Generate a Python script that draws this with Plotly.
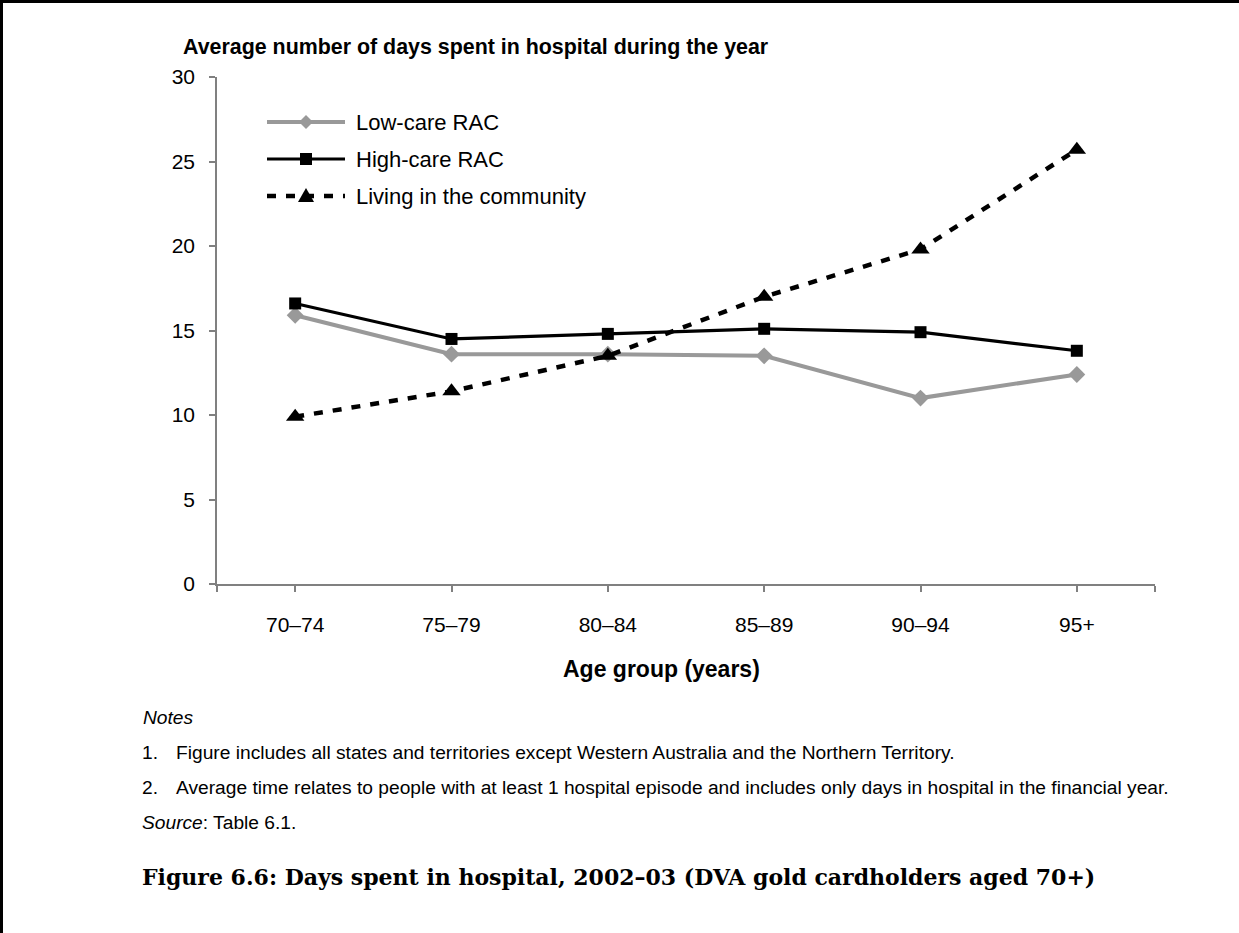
import plotly.graph_objects as go

# ---- data ----
age_groups = ["70–74", "75–79", "80–84", "85–89", "90–94", "95+"]
low_care = [15.9, 13.6, 13.6, 13.5, 11.0, 12.4]
high_care = [16.6, 14.5, 14.8, 15.1, 14.9, 13.8]
community = [9.9, 11.4, 13.5, 17.0, 19.8, 25.7]
y_ticks = [0, 5, 10, 15, 20, 25, 30]

series_names = ["Low-care RAC", "High-care RAC", "Living in the community"]

W, H = 1239, 933
L, R, T, B = 217, 1155, 77, 584  # plot area in px

def px(x):
    return (x - L) / (R - L)

def py(y):
    return (B - y) / (B - T)

xs = list(range(len(age_groups)))

GRAY = "#999999"
BLACK = "#000000"
AX = "#808080"
FONT = "Liberation Sans, Arial, sans-serif"
DASH = "9px,10px"

fig = go.Figure()
fig.add_trace(go.Scatter(x=xs, y=low_care, mode="lines+markers", name=series_names[0],
                         line=dict(color=GRAY, width=4),
                         marker=dict(symbol="diamond", size=13, color=GRAY),
                         showlegend=False))
fig.add_trace(go.Scatter(x=xs, y=high_care, mode="lines+markers", name=series_names[1],
                         line=dict(color=BLACK, width=3.2),
                         marker=dict(symbol="square", size=12, color=BLACK),
                         showlegend=False))
fig.add_trace(go.Scatter(x=xs, y=community, mode="lines+markers", name=series_names[2],
                         line=dict(color=BLACK, width=4.5, dash=DASH),
                         marker=dict(symbol="triangle-up", size=16, color=BLACK),
                         showlegend=False))

shapes = []
annotations = []

# custom legend (line sample + marker + text)
leg_rows = [122, 159, 196]
leg_styles = [
    dict(color=GRAY, width=4, dash="solid", marker="diamond"),
    dict(color=BLACK, width=3.2, dash="solid", marker="square"),
    dict(color=BLACK, width=4.5, dash=DASH, marker="triangle"),
]
marker_paths = {
    "diamond": "M0,-7 L7,0 L0,7 L-7,0 Z",
    "square": "M-6,-6 L6,-6 L6,6 L-6,6 Z",
    "triangle": "M0,8 L8,-6 L-8,-6 Z",
}
for name, yy, st in zip(series_names, leg_rows, leg_styles):
    shapes.append(dict(type="line", xref="paper", yref="paper",
                       x0=px(267), x1=px(345), y0=py(yy), y1=py(yy),
                       line=dict(color=st["color"], width=st["width"], dash=st["dash"])))
    shapes.append(dict(type="path", xref="paper", yref="paper",
                       xsizemode="pixel", ysizemode="pixel",
                       xanchor=px(306), yanchor=py(yy),
                       path=marker_paths[st["marker"]],
                       fillcolor=st["color"], line=dict(width=0)))
    annotations.append(dict(text=name, xref="paper", yref="paper", x=px(354), y=py(yy),
                            xanchor="left", yanchor="middle", showarrow=False,
                            font=dict(family=FONT, size=22, color=BLACK)))

# page border (left and top)
shapes.append(dict(type="line", xref="paper", yref="paper",
                   x0=px(1.5), x1=px(1.5), y0=py(0), y1=py(H), line=dict(color=BLACK, width=3)))
shapes.append(dict(type="line", xref="paper", yref="paper",
                   x0=px(0), x1=px(W), y0=py(1.5), y1=py(1.5), line=dict(color=BLACK, width=3)))

# chart title
annotations.append(dict(text="<b>Average number of days spent in hospital during the year</b>",
                        xref="paper", yref="paper", x=px(181), y=py(47),
                        xanchor="left", yanchor="middle", showarrow=False,
                        font=dict(family=FONT, size=21.4, color=BLACK)))
# x axis title
annotations.append(dict(text="<b>Age group (years)</b>",
                        xref="paper", yref="paper", x=px(661), y=py(669),
                        xanchor="center", yanchor="middle", showarrow=False,
                        font=dict(family=FONT, size=23, color=BLACK)))

NOTE_FONT = dict(family=FONT, size=19.2, color=BLACK)
annotations.append(dict(text="<i>Notes</i>", xref="paper", yref="paper", x=px(141), y=py(717),
                        xanchor="left", yanchor="middle", showarrow=False, font=NOTE_FONT))
notes = [
    ("1.", "Figure includes all states and territories except Western Australia and the Northern Territory.", 752),
    ("2.", "Average time relates to people with at least 1 hospital episode and includes only days in hospital in the financial year.", 787),
]
for num, txt, yy in notes:
    annotations.append(dict(text=num, xref="paper", yref="paper", x=px(140), y=py(yy),
                            xanchor="left", yanchor="middle", showarrow=False, font=NOTE_FONT))
    annotations.append(dict(text=txt, xref="paper", yref="paper", x=px(174), y=py(yy),
                            xanchor="left", yanchor="middle", showarrow=False, font=NOTE_FONT))
annotations.append(dict(text="<i>Source</i>: Table 6.1.", xref="paper", yref="paper", x=px(140), y=py(822),
                        xanchor="left", yanchor="middle", showarrow=False, font=NOTE_FONT))
annotations.append(dict(text="<b>Figure 6.6: Days spent in hospital, 2002–03 (DVA gold cardholders aged 70+)</b>",
                        xref="paper", yref="paper", x=px(140), y=py(877),
                        xanchor="left", yanchor="middle", showarrow=False,
                        font=dict(family="DejaVu Serif, serif", size=22, color=BLACK)))

fig.update_layout(
    width=W, height=H,
    margin=dict(l=L, r=W - R, t=T, b=H - B, pad=0),
    paper_bgcolor="white", plot_bgcolor="white",
    shapes=shapes, annotations=annotations,
    font=dict(family=FONT, color=BLACK),
    xaxis=dict(range=[-0.5, len(age_groups) - 0.5],
               tickmode="array",
               tickvals=[-0.5] + xs + [len(age_groups) - 0.5],
               ticktext=[""] + age_groups + [""],
               ticks="outside", ticklen=6, tickwidth=1.5, tickcolor=AX,
               showline=True, linecolor=AX, linewidth=1.5,
               showgrid=False, zeroline=False,
               tickfont=dict(family=FONT, size=21, color=BLACK),
               ticklabelstandoff=15),
    yaxis=dict(range=[0, 30], tickmode="array", tickvals=y_ticks,
               ticks="outside", ticklen=6, tickwidth=1.5, tickcolor=AX,
               showline=True, linecolor=AX, linewidth=1.5,
               showgrid=False, zeroline=False,
               tickfont=dict(family=FONT, size=21, color=BLACK),
               ticklabelstandoff=10),
)

fig.write_html("out.html",
               config={"displayModeBar": False},
               post_script="document.body.style.margin='0';document.body.style.overflow='hidden';")
